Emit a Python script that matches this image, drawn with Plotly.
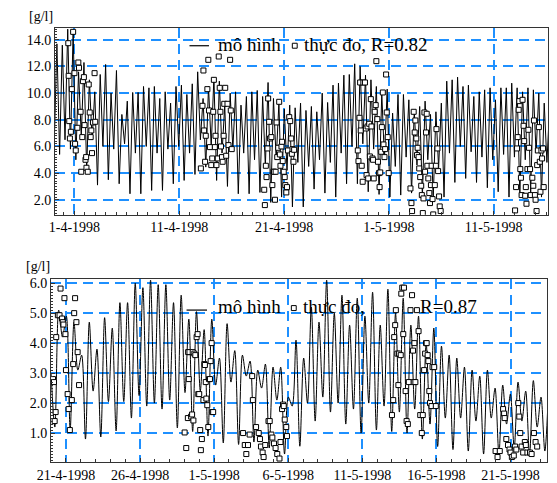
import pandas as pd
import plotly.graph_objects as go

# ---------------- data: upper panel (model = tidal extremes every 6.2 h) ----------------
top_start = "1998-03-30 01:36"
top_first = 6.0
top_peaks = [13.7, 13.6, 14.8, 14.7, 11.6, 12.3, 11.0, 10.1, 11.4, 12.15,
             10.0, 11.7, 8.4, 9.4, 10.05, 10.05, 10.5, 10.4, 10.5, 9.6,
             10.1, 9.25, 10.5, 10.6, 9.9, 10.7, 11.6, 9.6, 10.5, 11.2,
             10.9, 9.1, 10.0, 10.1, 9.1, 9.75, 10.1, 10.2, 9.75, 10.8,
             9.6, 9.25, 8.8, 9.1, 8.9, 9.25, 8.7, 9.0, 8.6, 10.0,
             9.3, 10.6, 10.75, 11.35, 11.4, 12.2, 12.0, 11.35, 11.0, 10.5,
             10.0, 10.3, 8.5, 9.9, 9.9, 9.5, 8.7, 9.0, 9.4, 8.4,
             8.6, 9.25, 10.9, 11.0, 11.2, 10.5, 10.6, 9.75, 10.1, 10.25,
             10.4, 9.5, 10.4, 10.4, 10.75, 10.4, 10.1, 10.4, 10.25, 10.0,
             9.25, 9.0]
top_troughs = [5.4, 6.5, 5.8, 5.0, 6.8, 4.2, 6.5, 3.1, 6.0, 3.5,
               5.8, 3.2, 6.2, 2.45, 5.5, 2.45, 6.0, 2.7, 5.5, 2.7,
               5.8, 3.2, 6.0, 3.45, 5.5, 3.9, 6.5, 4.45, 6.0, 3.45,
               5.5, 3.0, 5.8, 2.45, 5.5, 2.45, 5.0, 2.55, 4.5, 1.8,
               5.0, 2.2, 4.2, 1.46, 4.8, 1.46, 4.5, 2.8, 5.0, 2.5,
               4.8, 2.2, 5.5, 3.2, 6.0, 3.2, 6.2, 2.6, 5.8, 2.4,
               5.0, 2.2, 4.5, 2.35, 5.2, 2.5, 4.6, 2.2, 5.0, 2.0,
               4.4, 2.2, 5.5, 3.3, 6.0, 3.6, 5.6, 3.3, 5.2, 2.9,
               5.0, 2.6, 5.4, 2.2, 5.2, 2.3, 5.0, 2.5, 5.5, 2.2,
               4.8, 1.7]

# measured values, hours after 1-4-1998 00:00
top_obs_hours = [-14.1, -13.3, -11.9, -10.4, -8.2, -5.95, -3.0, 0, 1.5, 3.0, 6.7, 8.9, 10.4,
                 14.1, 15.6, 17.9, 19.4, 21.6, 23.1, 25.3, 26.8, 27.5, 30.5, 32.7, 35.0,
                 37.2, 38.7, 40.2, 42.4, 46.1, 47.6,
                 289.5, 293.2, 295.4, 296.9, 299.2, 300.7, 304.4, 306.6, 308.1, 310.3,
                 313.3, 315.5, 317.8, 319.3, 321.5, 323.0, 325.2, 328.2, 330.4, 332.7,
                 334.2, 335.6, 337.9, 339.4, 341.6, 343.1, 345.3, 347.5, 350.5, 352.8,
                 356.5, 358.0, 360.2,
                 434.6, 436.1, 438.3, 439.8, 442.1, 443.6, 445.8, 448.0, 451.0, 453.2,
                 455.5, 457.0, 459.2, 460.7, 462.9, 464.4, 466.6, 468.9, 470.4, 471.8,
                 474.1, 475.5, 477.0, 479.3, 481.5, 483.0, 485.2, 486.7, 488.9, 491.9,
                 494.1, 496.4, 497.9, 499.4, 501.6, 503.1,
                 648.9, 650.4, 652.7, 654.2, 655.6, 657.9, 660.1, 661.6, 665.3, 667.5,
                 669.0, 671.3, 672.7, 675.0, 676.5, 678.7, 680.2, 682.4, 683.9, 685.4,
                 687.6, 689.9, 691.4, 693.6, 695.1, 697.3, 698.8, 700.3, 702.5, 704.0,
                 706.2, 707.7, 710.0, 711.5, 713.7, 715.2, 717.4, 719.6,
                 769.5, 771.7, 773.2, 776.9, 779.2, 780.7, 782.9, 784.4, 785.9, 788.1,
                 789.6, 791.8, 794.1, 795.5, 797.8, 799.3, 801.5, 803.0, 805.2, 806.7,
                 808.2, 810.4, 812.7, 814.2, 816.4, 817.9, 820.1, 821.6, 825.3, 827.6,
                 829.0, 831.3, 832.8, 835.0, 836.5, 838.7,
                 1009.1, 1011.4, 1013.6, 1015.1, 1017.3, 1018.8, 1021.0, 1022.5, 1024.0, 1026.2,
                 1028.5, 1030.0, 1032.2, 1033.7, 1035.2, 1037.4, 1039.6, 1041.1, 1043.4, 1044.9,
                 1048.6, 1050.8, 1052.3, 1054.5, 1056.0, 1058.3, 1059.7, 1061.2, 1063.5, 1065.7,
                 1067.2, 1069.4, 1070.9, 1073.1, 1074.6]
top_obs_vals = [13.75, 11.3, 7.9, 6.6, 7.1, 10.3, 14.6, 11.5, 6.2, 5.7, 7.4, 12.3, 11.9,
                8.6, 4.1, 6.7, 10.9, 11.2, 7.6, 5.0, 5.2, 4.4, 4.1, 10.65, 8.55,
                6.7, 7.2, 5.5, 7.8, 11.5, 7.85,
                4.35, 9.05, 11.7, 7.2, 4.85, 6.8, 10.3, 12.5, 8.7, 5.95,
                4.6, 5.1, 8.6, 11.0, 5.95, 6.8, 4.6, 5.1, 12.75, 10.4,
                8.6, 6.0, 5.2, 4.85, 6.8, 9.2, 10.4, 5.3, 9.2, 6.1,
                12.5, 8.7, 5.8,
                2.75, 1.6, 4.55, 3.7, 5.85, 9.6, 7.85, 6.6, 6.7, 3.1,
                4.1, 4.1, 2.0, 4.1, 7.8, 5.2, 5.9, 9.35, 5.4, 4.55,
                6.0, 6.35, 4.9, 4.1, 3.7, 3.1, 2.55, 2.95, 5.7, 8.2,
                7.9, 6.6, 5.45, 5.8, 4.85, 5.75,
                5.7, 4.9, 8.15, 10.8, 7.2, 4.55, 3.35, 10.8, 10.8, 7.35,
                3.85, 7.5, 3.6, 7.7, 5.25, 9.55, 7.5, 5.1, 5.0, 3.6,
                8.6, 9.1, 12.4, 8.05, 4.85, 4.0, 2.95, 4.05, 5.6, 7.45,
                10.05, 6.15, 5.2, 5.8, 11.4, 8.55, 6.7, 4.0,
                2.85, 1.75, 1.15, 8.6, 7.05, 7.95, 6.6, 5.35, 5.9, 5.2,
                4.35, 3.7, 3.05, 2.35, 1.0, 2.1, 8.55, 4.1, 7.05, 8.45,
                4.55, 3.6, 2.5, 1.75, 3.1, 4.55, 2.05, 0.9, 3.1, 4.55,
                7.3, 5.85, 4.15, 2.25, 1.5, 1.15,
                1.2, 2.95, 5.85, 6.7, 8.75, 9.4, 4.3, 3.65, 2.35, 9.5,
                7.55, 6.4, 2.3, 2.95, 1.7, 4.3, 7.25, 5.9, 4.3, 2.35,
                3.65, 3.05, 7.95, 2.35, 2.0, 1.15, 4.6, 5.7, 7.45, 4.85,
                2.6, 5.7, 5.1, 5.85, 2.95]

top_tickvals = ["1998-04-01", "1998-04-11", "1998-04-21", "1998-05-01", "1998-05-11"]
top_ticktext = ["1-4-1998", "11-4-1998", "21-4-1998", "1-5-1998", "11-5-1998"]

# ---------------- data: lower panel ----------------
bot_start = "1998-04-19 23:48"
bot_first = [3.0, 1.2]
bot_peaks = [5.1, 4.9, 4.7, 3.6, 4.7, 3.8, 4.85, 4.5, 5.35, 5.35,
             6.0, 5.85, 6.1, 5.95, 5.95, 5.35, 5.6, 4.8, 5.05, 4.45,
             4.8, 3.5, 4.65, 3.75, 3.6, 3.4, 3.1, 3.3, 3.2, 3.2,
             2.2, 4.1, 3.5, 5.2, 4.7, 6.1, 5.0, 5.6, 4.6, 5.5,
             4.9, 5.7, 4.6, 5.8, 5.0, 5.5, 4.6, 4.9, 4.0, 4.5,
             3.9, 3.6, 3.5, 3.2, 3.1, 2.9, 3.1, 2.5, 2.6, 2.3,
             2.7, 2.4, 2.75, 2.2, 2.6]
bot_troughs = [4.2, 1.1, 3.1, 0.8, 2.4, 0.87, 2.05, 1.07, 2.05, 1.5,
               2.25, 1.9, 2.0, 1.8, 2.1, 1.17, 2.35, 1.05, 2.4, 0.9,
               2.6, 0.67, 2.7, 0.62, 2.9, 0.7, 2.5, 0.5, 2.1, 0.3,
               1.9, 0.56, 2.0, 1.4, 2.2, 1.7, 2.0, 1.3, 1.8, 1.0,
               2.0, 1.1, 1.9, 1.05, 1.7, 1.0, 1.8, 0.8, 1.3, 0.55,
               1.5, 0.45, 1.5, 0.4, 1.4, 0.3, 1.5, 0.3, 1.3, 0.5,
               1.4, 0.25, 1.2, 0.4]

# measured values, hours after 21-4-1998 00:00
bot_obs_hours = [-21.0, -19.4, -18.3, -16.7, -15.8, -13.1, -10.4, -8.8, -6.3, -5.2,
                 -4.1, -2.5, -0.9, 0, 2.7, 4.3, 6.3, 9.5, 11.7, 13.3,
                 14.8, 16.9, 18.9, 21.2,
                 192.2, 194.8, 197.4, 197.9, 198.9, 200.0, 202.7, 204.3, 205.3, 206.4,
                 207.9, 209.5, 211.6, 213.2, 214.3, 215.8, 217.4, 218.5, 220.1, 222.6,
                 224.2, 225.0, 226.4, 227.4, 228.9, 230.5, 231.6, 233.2, 234.3, 235.9,
                 236.8, 238.4,
                 286.9, 289.6, 292.1, 294.8, 297.5, 301.6, 302.7, 307.9, 312.2, 314.2,
                 315.8, 318.5, 320.1, 322.7, 328.0, 330.0, 332.7, 334.3, 336.9, 339.5,
                 342.2, 345.8, 347.4, 350.0, 351.6, 352.7, 354.3, 356.8, 357.9,
                 528.0, 530.0, 531.6, 533.2, 534.3, 536.8, 538.4, 539.5, 542.2, 543.1,
                 544.7, 546.3, 547.4, 550.1, 551.7, 553.7, 555.3, 558.0, 560.5, 562.1,
                 563.2, 564.3, 565.9, 568.4, 571.1, 573.8, 576.3, 577.9, 580.1, 581.7,
                 583.2, 584.2, 585.8, 586.9, 588.5, 589.6, 592.1, 593.7, 596.4, 599.0,
                 695.8, 699.0, 702.6, 708.0, 709.6, 710.5, 713.2, 715.9, 718.4, 720.0,
                 722.2, 725.3, 727.4, 729.4, 732.6, 734.2, 735.8, 738.0, 740.5, 743.2,
                 744.8, 747.4, 751.6, 754.2, 757.9, 760.6, 763.2]
bot_obs_vals = [2.8, 2.7, 1.4, 1.7, 4.2, 4.93, 4.93, 5.82, 4.82, 4.7,
                4.62, 5.5, 4.3, 3.1, 2.3, 1.8, 1.1, 2.1, 3.3, 5.0,
                5.5, 4.7, 3.7, 2.6,
                1.02, 0.5, 1.5, 3.7, 2.8, 3.7, 1.55, 1.62, 3.7, 1.42,
                3.65, 3.6, 4.2, 4.3, 2.3, 2.3, 1.1, 0.43, 0.8, 2.1,
                3.3, 3.27, 2.7, 2.15, 1.93, 1.2, 2.8, 2.8, 3.4, 4.0,
                1.7, 1.7,
                1.0, 0.6, 0.3, 0.6, 0.95, 2.9, 2.1, 1.2, 1.0, 0.8,
                0.55, 0.35, 0.2, 0.6, 1.4, 1.4, 0.95, 0.85, 0.65, 0.5,
                0.3, 0.15, 0.7, 1.8, 1.95, 1.9, 1.45, 1.2, 0.9,
                1.6, 2.1, 4.2, 4.6, 5.1, 3.65, 2.6, 3.65, 3.6, 5.65,
                5.85, 4.3, 5.85, 2.4, 1.4, 1.3, 2.7, 5.1, 5.6, 3.75,
                2.7, 4.0, 2.7, 5.1, 4.4, 1.6, 1.0, 1.6, 3.1, 3.65,
                4.0, 4.0, 3.6, 3.4, 2.4, 2.0, 1.9, 3.2, 3.2, 1.9,
                0.4, 0.2, 0.4, 1.8, 1.65, 1.5, 0.8, 0.6, 0.45, 0.35,
                0.2, 0.25, 0.55, 0.45, 2.0, 1.55, 1.0, 0.55, 0.35, 0.7,
                0.6, 0.35, 0.35, 0.3, 1.0, 0.7, 0.55]

bot_tickvals = ["1998-04-21", "1998-04-26", "1998-05-01", "1998-05-06",
                "1998-05-11", "1998-05-16", "1998-05-21"]
bot_ticktext = ["21-4-1998", "26-4-1998", "1-5-1998", "6-5-1998",
                "11-5-1998", "16-5-1998", "21-5-1998"]


def interleave(a, b):
    out = []
    for i, v in enumerate(a):
        out.append(v)
        if i < len(b):
            out.append(b[i])
    return out


top_model = [top_first] + interleave(top_peaks, top_troughs)
top_t = pd.date_range(top_start, periods=len(top_model), freq="372min")
top_obs_t = pd.Timestamp("1998-04-01") + pd.to_timedelta(top_obs_hours, unit="h")

bot_model = bot_first + interleave(bot_peaks, bot_troughs)
bot_t = pd.date_range(bot_start, periods=len(bot_model), freq="372min")
bot_obs_t = pd.Timestamp("1998-04-21") + pd.to_timedelta(bot_obs_hours, unit="h")

W, H = 557, 483
SERIF = "Liberation Serif, Times New Roman, serif"
GRID = "#1e90ff"
AX = "#333333"

fig = go.Figure()
fig.add_trace(go.Scatter(x=top_t, y=top_model, mode="lines", line=dict(color="black", width=1),
                         xaxis="x", yaxis="y", showlegend=False, hoverinfo="skip"))
fig.add_trace(go.Scatter(x=top_obs_t, y=top_obs_vals, mode="markers",
                         marker=dict(symbol="square", size=5, color="white", line=dict(color="black", width=1)),
                         xaxis="x", yaxis="y", showlegend=False))
fig.add_trace(go.Scatter(x=bot_t, y=bot_model, mode="lines",
                         line=dict(color="black", width=1, shape="spline", smoothing=0.9),
                         xaxis="x2", yaxis="y2", showlegend=False, hoverinfo="skip"))
fig.add_trace(go.Scatter(x=bot_obs_t, y=bot_obs_vals, mode="markers",
                         marker=dict(symbol="square", size=5, color="white", line=dict(color="black", width=1)),
                         xaxis="x2", yaxis="y2", showlegend=False))

tickfont = dict(family=SERIF, size=14, color="black")


def xax(domain, anchor, rng, tv, tt):
    return dict(domain=domain, anchor=anchor, type="date", range=rng,
                tickmode="array", tickvals=tv, ticktext=tt, tickfont=tickfont,
                showgrid=True, gridcolor=GRID, gridwidth=1.5, griddash="10px,6px",
                showline=True, linecolor=AX, linewidth=1, mirror=True,
                ticks="inside", ticklen=4, tickcolor=AX, zeroline=False,
                minor=dict(dtick=86400000, ticks="inside", ticklen=3, tickcolor=AX, showgrid=False))


def yax(domain, anchor, rng, dt, mdt):
    return dict(domain=domain, anchor=anchor, range=rng, tick0=0, dtick=dt, tickformat=".1f",
                tickfont=tickfont, showgrid=True, gridcolor=GRID, gridwidth=1.5, griddash="10px,6px",
                showline=True, linecolor=AX, linewidth=1, mirror=True,
                ticks="inside", ticklen=4, tickcolor=AX, zeroline=False,
                minor=dict(dtick=mdt, ticks="inside", ticklen=2, tickcolor=AX, showgrid=False))


def px(x):
    return x / W


def py(y):
    return 1 - y / H


fig.update_layout(
    width=W, height=H, margin=dict(l=0, r=0, t=0, b=0),
    paper_bgcolor="white", plot_bgcolor="white", showlegend=False,
    xaxis=xax([px(42), px(548)], "y", ["1998-03-30 03:20", "1998-05-16 05:00"], top_tickvals, top_ticktext),
    yaxis=yax([py(213), py(25)], "x", [0.88, 14.9], 2, 0.2),
    xaxis2=xax([px(38), px(547)], "y2", ["1998-04-19 23:50", "1998-05-23 11:30"], bot_tickvals, bot_ticktext),
    yaxis2=yax([py(462), py(278)], "x2", [0.03, 6.13], 1, 0.1),
)

legfont = dict(family=SERIF, size=19, color="black")
ann = [
    dict(x=px(28), y=py(14), text="[g/l]", font=dict(family=SERIF, size=14, color="black")),
    dict(x=px(25), y=py(265), text="[g/l]", font=dict(family=SERIF, size=14, color="black")),
    dict(x=px(207), y=py(42), text="mô hình", xanchor="left", font=legfont),
    dict(x=px(295), y=py(42), text="thực đo, R=0.82", xanchor="left", font=legfont),
    dict(x=px(207), y=py(305), text="mô hình", xanchor="left", font=legfont),
    dict(x=px(294), y=py(305), text="thực đo,", xanchor="left", font=legfont),
    dict(x=px(414), y=py(305), text="R=0.87", xanchor="left", font=legfont),
]
for a in ann:
    a.update(xref="paper", yref="paper", showarrow=False, yanchor="middle")
    a.setdefault("xanchor", "center")
fig.update_layout(annotations=ann)

shapes = [
    dict(type="line", x0=px(180), x1=px(200), y0=py(43), y1=py(43), line=dict(color="black", width=1.2)),
    dict(type="rect", x0=px(285.5), x1=px(290.5), y0=py(45.5), y1=py(40.5),
         fillcolor="white", line=dict(color="black", width=1)),
    dict(type="line", x0=px(177), x1=px(198), y0=py(309), y1=py(309), line=dict(color="black", width=1.2)),
    dict(type="rect", x0=px(284.5), x1=px(289.5), y0=py(309.5), y1=py(304.5),
         fillcolor="white", line=dict(color="black", width=1)),
]
for s in shapes:
    s.update(xref="paper", yref="paper")
fig.update_layout(shapes=shapes)

fig.write_html("out.html", config={"displayModeBar": False},
               post_script="document.body.style.margin='0px';document.body.style.overflow='hidden';")
